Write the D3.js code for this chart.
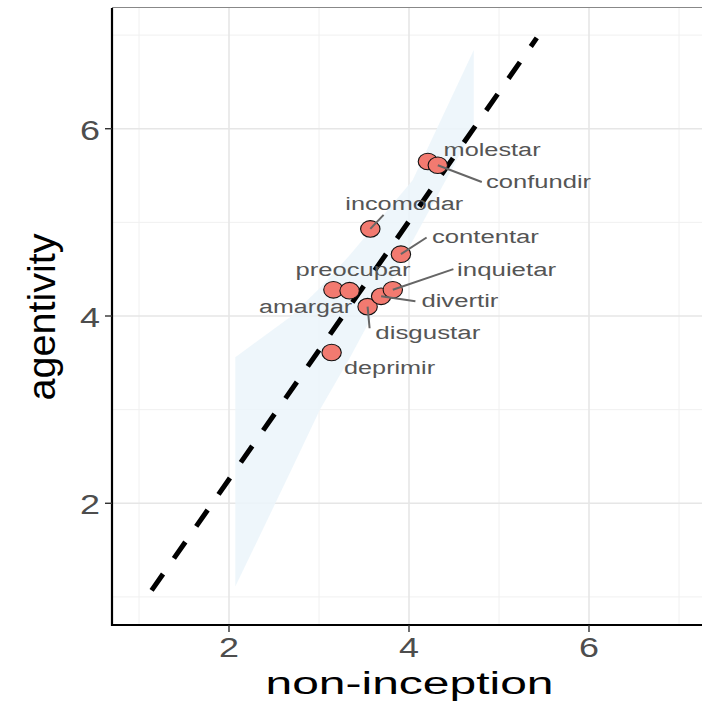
<!DOCTYPE html>
<html>
<head>
<meta charset="utf-8">
<script src="https://cdn.jsdelivr.net/npm/d3@7"></script>
<style>
  html, body { margin: 0; padding: 0; background: #fff; }
  svg { display: block; }
  text { font-family: "Liberation Sans", Arial, Helvetica, sans-serif; }
</style>
</head>
<body>
<svg id="chart" width="702" height="707"></svg>
<script>
// ---------------- data ----------------
const verbs      = ["molestar", "confundir", "incomodar", "contentar", "amargar", "preocupar", "disgustar", "divertir", "inquietar", "deprimir"];
const nonInception = [4.21, 4.32, 3.57, 3.91, 3.16, 3.34, 3.54, 3.69, 3.82, 3.14];
const agentivity   = [5.65, 5.61, 4.93, 4.66, 4.28, 4.27, 4.10, 4.21, 4.28, 3.61];

const xTicks = [2, 4, 6];
const yTicks = [2, 4, 6];
const xMinor = [1, 3, 5, 7];
const yMinor = [1, 3, 5, 7];

// dashed reference line endpoints (data units)
const refLineX = [1.14, 5.42];
const refLineY = [1.07, 6.97];

// shaded band (data units)
const bandX    = [2.07, 2.68, 3.01, 3.34, 4.04, 4.72];
const bandLow  = [1.11, 2.33, 3.00, 3.55, 4.80, 6.00];
const bandHigh = [3.56, 3.99, 4.30, 4.65, 5.45, 6.84];

// ---------------- layout (label placement like ggrepel, pixels) ----------------
const labelLayout = {
  molestar:  {dx: 16.7,  dy: -5.2, w: 95,  seg: null},
  confundir: {dx: 49.3,  dy: 22.5, w: 103, seg: [44, 16.7]},
  incomodar: {dx: -24,   dy: -19,  w: 116, seg: [13.3, -14]},
  contentar: {dx: 32,    dy: -11,  w: 105, seg: [25.7, -16.7]},
  amargar:   {dx: -73.3, dy: 23.5, w: 91,  seg: null},
  preocupar: {dx: -53,   dy: -14.7,w: 113, seg: null},
  disgustar: {dx: 8.7,   dy: 32.8, w: 103, seg: [2, 21.6]},
  divertir:  {dx: 41.3,  dy: 10.3, w: 75,  seg: [34.3, 5]},
  inquietar: {dx: 65.3,  dy: -14,  w: 97,  seg: [60.6, -20.7]},
  deprimir:  {dx: 13.5,  dy: 21.8, w: 89,  seg: null}
};

const svg = d3.select("#chart");
const W = 702, H = 707;
const pL = 112, pR = 706, pT = 7, pB = 625;

const x = d3.scaleLinear().domain([0.7, 7.3]).range([pL, pR]);
const y = d3.scaleLinear().domain([0.7, 7.3]).range([pB, pT]);

svg.append("defs").append("clipPath").attr("id", "panel")
  .append("rect").attr("x", pL).attr("y", pT).attr("width", pR - pL).attr("height", pB - pT);

const panel = svg.append("g").attr("clip-path", "url(#panel)");

// grid
panel.selectAll(".gxm").data(xMinor).join("line")
  .attr("x1", d => x(d)).attr("x2", d => x(d)).attr("y1", pT).attr("y2", pB)
  .attr("stroke", "#f0f0f0").attr("stroke-width", 1);
panel.selectAll(".gym").data(yMinor).join("line")
  .attr("y1", d => y(d)).attr("y2", d => y(d)).attr("x1", pL).attr("x2", pR)
  .attr("stroke", "#f0f0f0").attr("stroke-width", 1);
panel.selectAll(".gx").data(xTicks).join("line")
  .attr("x1", d => x(d)).attr("x2", d => x(d)).attr("y1", pT).attr("y2", pB)
  .attr("stroke", "#e6e6e6").attr("stroke-width", 1.6);
panel.selectAll(".gy").data(yTicks).join("line")
  .attr("y1", d => y(d)).attr("y2", d => y(d)).attr("x1", pL).attr("x2", pR)
  .attr("stroke", "#e6e6e6").attr("stroke-width", 1.6);

// band
const bandData = bandX.map((v, i) => ({x: v, lo: bandLow[i], hi: bandHigh[i]}));
panel.append("path").datum(bandData)
  .attr("d", d3.area().x(d => x(d.x)).y0(d => y(d.lo)).y1(d => y(d.hi)))
  .attr("fill", "#ebf4fa").attr("opacity", 0.85);

// dashed line
panel.append("line")
  .attr("x1", x(refLineX[0])).attr("y1", y(refLineY[0]))
  .attr("x2", x(refLineX[1])).attr("y2", y(refLineY[1]))
  .attr("stroke", "#000").attr("stroke-width", 5)
  .attr("stroke-dasharray", "20,19");

// points
const pts = verbs.map((v, i) => ({name: v, px: x(nonInception[i]), py: y(agentivity[i])}));
panel.selectAll(".pt").data(pts).join("ellipse")
  .attr("cx", d => d.px).attr("cy", d => d.py)
  .attr("rx", 9.7).attr("ry", 8.3)
  .attr("fill", "#F27A70").attr("stroke", "#111").attr("stroke-width", 1.1);

// segments
panel.selectAll(".seg").data(pts.filter(d => labelLayout[d.name].seg)).join("line")
  .attr("x1", d => d.px).attr("y1", d => d.py)
  .attr("x2", d => d.px + labelLayout[d.name].seg[0])
  .attr("y2", d => d.py + labelLayout[d.name].seg[1])
  .attr("stroke", "#666").attr("stroke-width", 2);

// labels
panel.selectAll(".lab").data(pts).join("text")
  .attr("x", d => d.px + labelLayout[d.name].dx - 1)
  .attr("y", d => d.py + labelLayout[d.name].dy)
  .attr("font-size", 18)
  .attr("fill", "#555")
  .attr("textLength", d => labelLayout[d.name].w + 2)
  .attr("lengthAdjust", "spacingAndGlyphs")
  .text(d => d.name);

// top border
svg.append("line").attr("x1", pL).attr("x2", W).attr("y1", pT + 0.5).attr("y2", pT + 0.5)
  .attr("stroke", "#888").attr("stroke-width", 1);

// axes lines
svg.append("line").attr("x1", pL).attr("x2", pL).attr("y1", pT + 1).attr("y2", pB + 1)
  .attr("stroke", "#000").attr("stroke-width", 2.2);
svg.append("line").attr("x1", pL - 1).attr("x2", W).attr("y1", pB).attr("y2", pB)
  .attr("stroke", "#000").attr("stroke-width", 2.2);

// ticks
svg.selectAll(".xt").data(xTicks).join("line")
  .attr("x1", d => x(d)).attr("x2", d => x(d)).attr("y1", pB).attr("y2", pB + 7)
  .attr("stroke", "#333").attr("stroke-width", 1.4);
svg.selectAll(".yt").data(yTicks).join("line")
  .attr("y1", d => y(d)).attr("y2", d => y(d)).attr("x1", pL - 7).attr("x2", pL)
  .attr("stroke", "#333").attr("stroke-width", 1.4);

// tick labels
svg.selectAll(".xl").data(xTicks).join("text")
  .attr("x", d => x(d)).attr("y", pB + 32)
  .attr("text-anchor", "middle").attr("font-size", 27).attr("fill", "#4d4d4d")
  .attr("textLength", 20).attr("lengthAdjust", "spacingAndGlyphs")
  .text(d => d);
svg.selectAll(".yl").data(yTicks).join("text")
  .attr("x", pL - 12).attr("y", d => y(d) + 11)
  .attr("text-anchor", "end").attr("font-size", 27).attr("fill", "#4d4d4d")
  .attr("textLength", 20).attr("lengthAdjust", "spacingAndGlyphs")
  .text(d => d);

// axis titles
svg.append("text")
  .attr("x", (267 + 552) / 2).attr("y", 694)
  .attr("text-anchor", "middle").attr("font-size", 31).attr("fill", "#000")
  .attr("textLength", 288).attr("lengthAdjust", "spacingAndGlyphs")
  .text("non-inception");
svg.append("text")
  .attr("transform", "translate(55,317) rotate(-90)")
  .attr("text-anchor", "middle").attr("font-size", 38).attr("fill", "#000")
  .attr("textLength", 167).attr("lengthAdjust", "spacingAndGlyphs")
  .text("agentivity");
</script>
</body>
</html>
